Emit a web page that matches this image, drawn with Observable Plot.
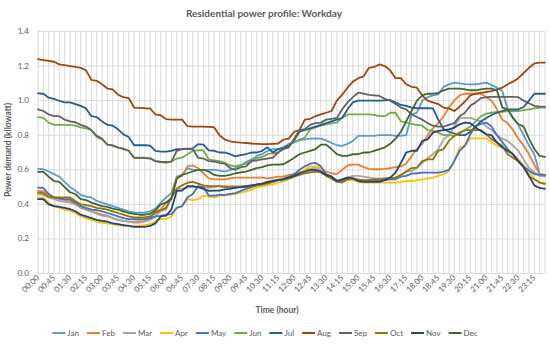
<!DOCTYPE html>
<html><head><meta charset="utf-8">
<script src="https://cdn.jsdelivr.net/npm/d3@7"></script>
<script src="https://cdn.jsdelivr.net/npm/@observablehq/plot@0.6"></script>
<style>
html,body{margin:0;padding:0;background:#fff;}
#chart{position:relative;width:550px;height:346px;}
</style></head><body><div id="chart"></div>
<script>
const title = "Residential power profile: Workday";
const yTitle = "Power demand (kilowatt)";
const xTitle = "Time (hour)";
const months = ["Jan","Feb","Mar","Apr","May","Jun","Jul","Aug","Sep","Oct","Nov","Dec"];
const colors = ["#5B9BD5","#ED7D31","#A5A5A5","#FFC000","#4472C4","#70AD47","#255E91","#9E480E","#636363","#997300","#264478","#43682B"];
const yTicks = [0,0.2,0.4,0.6,0.8,1.0,1.2,1.4];

const Jan = [0.605,0.603,0.59,0.575,0.56,0.53,0.50,0.48,0.455,0.445,0.44,0.42,0.41,0.40,0.39,0.38,0.37,0.36,0.353,0.352,0.352,0.36,0.375,0.41,0.44,0.465,
0.56,0.57,0.61,0.60,0.60,0.60,0.60,0.60,0.595,0.59,0.60,0.61,0.625,0.645,0.66,0.68,0.69,0.71,0.72,0.72,0.73,0.75,0.76,0.77,
0.776,0.78,0.782,0.78,0.77,0.755,0.742,0.738,0.75,0.767,0.796,0.796,0.796,0.796,0.80,0.80,0.80,0.796,0.796,0.80,
0.92,0.93,1.0,1.02,1.03,1.036,1.08,1.094,1.104,1.10,1.095,1.094,1.094,1.10,1.104,1.09,1.075,1.056,0.95,0.90,0.86,0.80,0.74,0.69,0.574,0.57];
const Feb = [0.478,0.475,0.46,0.44,0.43,0.425,0.42,0.40,0.38,0.37,0.36,0.35,0.34,0.335,0.32,0.31,0.305,0.30,0.30,0.303,0.305,0.32,0.36,0.37,0.41,0.44,
0.555,0.565,0.62,0.625,0.61,0.58,0.55,0.545,0.545,0.545,0.55,0.555,0.555,0.555,0.555,0.555,0.555,0.55,0.555,0.56,0.56,0.57,0.575,0.585,
0.595,0.597,0.597,0.595,0.59,0.58,0.575,0.60,0.625,0.63,0.63,0.615,0.605,0.603,0.603,0.605,0.61,0.615,0.62,0.635,
0.68,0.72,0.75,0.80,0.84,0.87,0.91,0.96,1.0,1.03,1.04,1.04,1.04,1.04,1.02,1.0,0.95,0.89,0.87,0.83,0.78,0.74,0.69,0.63,0.575,0.57];
const Mar = [0.459,0.455,0.44,0.43,0.42,0.415,0.41,0.40,0.385,0.37,0.36,0.345,0.335,0.33,0.32,0.31,0.305,0.30,0.295,0.295,0.30,0.31,0.33,0.362,0.37,0.44,
0.49,0.49,0.497,0.50,0.50,0.50,0.495,0.50,0.505,0.505,0.505,0.505,0.505,0.505,0.51,0.515,0.52,0.53,0.54,0.545,0.55,0.56,0.57,0.58,
0.595,0.605,0.613,0.60,0.575,0.56,0.54,0.545,0.555,0.565,0.565,0.56,0.555,0.55,0.55,0.55,0.55,0.555,0.57,0.59,
0.593,0.61,0.64,0.667,0.69,0.72,0.776,0.80,0.85,0.90,0.90,0.90,0.89,0.88,0.85,0.83,0.80,0.78,0.767,0.74,0.71,0.66,0.61,0.585,0.565,0.56];
const Apr = [0.44,0.438,0.41,0.39,0.38,0.37,0.362,0.35,0.33,0.32,0.31,0.30,0.295,0.29,0.285,0.28,0.275,0.275,0.275,0.275,0.28,0.285,0.30,0.314,0.315,0.33,
0.38,0.39,0.43,0.425,0.43,0.45,0.445,0.44,0.45,0.45,0.455,0.46,0.468,0.475,0.485,0.497,0.505,0.51,0.515,0.525,0.535,0.545,0.56,0.58,
0.60,0.62,0.62,0.61,0.57,0.55,0.535,0.53,0.54,0.54,0.53,0.526,0.526,0.526,0.526,0.526,0.526,0.526,0.53,0.535,
0.535,0.54,0.545,0.55,0.555,0.565,0.575,0.593,0.65,0.728,0.738,0.782,0.782,0.782,0.782,0.757,0.74,0.728,0.71,0.69,0.66,0.622,0.59,0.545,0.526,0.516];
const May = [0.497,0.495,0.46,0.44,0.435,0.43,0.43,0.41,0.39,0.38,0.37,0.366,0.36,0.35,0.34,0.33,0.32,0.315,0.314,0.314,0.315,0.32,0.33,0.333,0.34,0.343,
0.38,0.39,0.44,0.46,0.505,0.50,0.45,0.45,0.455,0.455,0.46,0.465,0.478,0.49,0.50,0.51,0.515,0.525,0.53,0.54,0.545,0.56,0.575,0.60,
0.62,0.635,0.64,0.62,0.574,0.56,0.535,0.535,0.555,0.55,0.54,0.535,0.54,0.54,0.54,0.54,0.545,0.545,0.56,0.565,
0.578,0.58,0.584,0.584,0.584,0.584,0.59,0.60,0.65,0.71,0.74,0.805,0.853,0.865,0.873,0.85,0.80,0.76,0.72,0.69,0.65,0.62,0.595,0.575,0.57,0.57];
const Jun = [0.905,0.90,0.873,0.86,0.86,0.86,0.86,0.855,0.845,0.84,0.83,0.79,0.776,0.745,0.742,0.73,0.72,0.71,0.67,0.67,0.67,0.668,0.65,0.645,0.64,0.648,
0.665,0.67,0.69,0.71,0.713,0.712,0.66,0.655,0.65,0.64,0.625,0.62,0.628,0.635,0.65,0.668,0.674,0.69,0.695,0.70,0.728,0.742,0.76,0.775,
0.786,0.834,0.845,0.855,0.863,0.868,0.873,0.90,0.92,0.92,0.92,0.92,0.92,0.918,0.91,0.91,0.93,0.93,0.88,0.875,
0.865,0.86,0.855,0.83,0.825,0.815,0.80,0.80,0.796,0.81,0.83,0.85,0.88,0.91,0.925,0.93,0.935,0.935,0.94,0.94,0.94,0.945,0.95,0.955,0.96,0.96];
const Jul = [1.042,1.04,1.017,1.01,0.998,0.99,0.99,0.98,0.97,0.955,0.91,0.905,0.88,0.86,0.855,0.834,0.805,0.79,0.742,0.742,0.742,0.74,0.71,0.705,0.705,0.71,
0.72,0.72,0.722,0.724,0.748,0.745,0.712,0.71,0.70,0.70,0.69,0.678,0.685,0.69,0.70,0.70,0.71,0.73,0.70,0.72,0.725,0.74,0.77,0.82,
0.83,0.84,0.85,0.86,0.87,0.88,0.89,0.90,0.95,0.99,1.0,1.0,1.0,1.0,1.0,1.002,1.004,0.99,0.975,0.97,
0.96,0.956,0.956,0.956,0.955,0.89,0.835,0.82,0.81,0.80,0.80,0.82,0.85,0.88,0.90,0.917,0.93,0.94,0.95,0.95,0.95,0.963,1.0,1.04,1.04,1.04];
const Aug = [1.24,1.235,1.23,1.225,1.21,1.205,1.20,1.195,1.19,1.175,1.12,1.115,1.095,1.07,1.065,1.035,1.02,1.015,0.96,0.958,0.956,0.955,0.92,0.915,0.893,0.89,
0.89,0.89,0.852,0.85,0.85,0.85,0.848,0.846,0.80,0.775,0.765,0.76,0.757,0.755,0.752,0.75,0.748,0.748,0.75,0.752,0.775,0.78,0.82,0.83,
0.89,0.895,0.91,0.92,0.93,0.94,1.0,1.035,1.075,1.11,1.13,1.14,1.19,1.195,1.21,1.20,1.175,1.13,1.13,1.095,
1.08,1.075,1.03,1.0,0.99,0.98,0.96,0.955,0.94,0.965,0.995,1.03,1.04,1.045,1.05,1.055,1.065,1.075,1.095,1.11,1.13,1.16,1.19,1.215,1.22,1.22];
const Sep = [0.95,0.94,0.92,0.91,0.91,0.89,0.88,0.875,0.86,0.85,0.83,0.796,0.78,0.745,0.74,0.728,0.722,0.71,0.67,0.668,0.667,0.665,0.65,0.645,0.645,0.647,
0.71,0.72,0.72,0.72,0.67,0.665,0.65,0.648,0.64,0.635,0.61,0.60,0.615,0.62,0.65,0.655,0.66,0.665,0.67,0.70,0.72,0.73,0.78,0.83,
0.835,0.86,0.87,0.873,0.89,0.895,0.90,0.95,0.99,1.02,1.046,1.04,1.033,1.03,1.027,1.01,1.0,0.98,0.96,0.95,
0.92,0.905,0.89,0.87,0.855,0.85,0.85,0.86,0.87,0.91,0.93,0.97,0.99,1.015,1.02,1.022,1.022,1.022,1.022,1.022,1.02,1.0,0.985,0.97,0.965,0.965];
const Oct = [0.468,0.465,0.445,0.44,0.44,0.44,0.44,0.42,0.40,0.395,0.39,0.38,0.375,0.37,0.36,0.35,0.34,0.33,0.325,0.324,0.325,0.33,0.35,0.366,0.38,0.44,
0.49,0.51,0.525,0.53,0.52,0.51,0.505,0.505,0.505,0.50,0.50,0.50,0.50,0.50,0.505,0.51,0.515,0.52,0.53,0.54,0.545,0.55,0.56,0.57,
0.58,0.585,0.59,0.585,0.565,0.55,0.53,0.526,0.545,0.55,0.545,0.54,0.54,0.545,0.545,0.55,0.55,0.555,0.57,0.59,
0.61,0.613,0.65,0.66,0.66,0.71,0.72,0.767,0.796,0.815,0.83,0.83,0.83,0.83,0.805,0.776,0.76,0.738,0.69,0.67,0.65,0.622,0.56,0.545,0.526,0.52];
const Nov = [0.43,0.43,0.40,0.39,0.385,0.38,0.372,0.36,0.34,0.33,0.32,0.31,0.304,0.30,0.29,0.285,0.28,0.275,0.27,0.27,0.27,0.275,0.29,0.33,0.335,0.37,
0.478,0.48,0.505,0.505,0.50,0.49,0.478,0.48,0.48,0.487,0.49,0.495,0.50,0.505,0.51,0.515,0.52,0.53,0.535,0.54,0.545,0.555,0.565,0.58,
0.59,0.60,0.60,0.59,0.57,0.56,0.535,0.545,0.555,0.55,0.535,0.53,0.53,0.53,0.53,0.54,0.555,0.584,0.64,0.70,
0.71,0.71,0.767,0.776,0.815,0.825,0.83,0.834,0.844,0.863,0.873,0.87,0.844,0.825,0.805,0.80,0.757,0.73,0.71,0.69,0.65,0.613,0.565,0.51,0.495,0.49];
const Dec = [0.588,0.588,0.56,0.535,0.53,0.50,0.47,0.46,0.43,0.425,0.41,0.40,0.39,0.385,0.375,0.37,0.36,0.35,0.345,0.34,0.34,0.345,0.365,0.40,0.41,0.43,
0.55,0.57,0.58,0.59,0.60,0.60,0.59,0.57,0.565,0.565,0.57,0.58,0.585,0.59,0.60,0.61,0.615,0.625,0.63,0.63,0.632,0.65,0.67,0.69,
0.70,0.71,0.72,0.745,0.745,0.72,0.69,0.68,0.68,0.69,0.69,0.70,0.70,0.71,0.72,0.73,0.75,0.78,0.82,0.88,
0.94,1.0,1.03,1.04,1.04,1.045,1.06,1.07,1.07,1.07,1.065,1.06,1.06,1.065,1.07,1.07,1.06,0.96,0.95,0.90,0.865,0.85,0.78,0.72,0.68,0.675];

const series = [Jan,Feb,Mar,Apr,May,Jun,Jul,Aug,Sep,Oct,Nov,Dec];
const times = d3.range(96).map(i => String(Math.floor(i/4)).padStart(2,"0") + ":" + String((i%4)*15).padStart(2,"0"));
const tickTimes = times.filter((d,i) => i % 3 === 0);

const data = [];
months.forEach((m, k) => series[k].forEach((v, i) => data.push({month: m, t: times[i], v})));

const FONT = "Lato, 'Open Sans', sans-serif";
const TXT = "#595959";
const GRID = "#D9D9D9";

const plot = Plot.plot({
  width: 550, height: 346,
  marginTop: 31, marginBottom: 73, marginLeft: 37.5, marginRight: 5.5,
  style: {fontFamily: FONT, fontSize: "8px", color: TXT, background: "#fff", overflow: "visible"},
  x: {type: "point", domain: times, padding: 0, label: null},
  y: {domain: [0, 1.4], label: null},
  color: {domain: months, range: colors},
  marks: [
    Plot.ruleX(times, {stroke: GRID, strokeWidth: 1}),
    Plot.gridY(yTicks, {stroke: GRID, strokeOpacity: 1, strokeWidth: 1}),
    Plot.axisY({ticks: yTicks, tickFormat: d3.format(".1f"), tickSize: 0, tickPadding: 9, fill: TXT, label: null}),
    Plot.axisX({ticks: tickTimes, tickRotate: -45, tickSize: 0, tickPadding: 3, fill: TXT, label: null}),
    Plot.line(data, {x: "t", y: "v", z: "month", stroke: "month", strokeWidth: 1.8, strokeLinejoin: "round"})
  ]
});
document.getElementById("chart").appendChild(plot);

const svg = d3.select(plot);
svg.append("text").attr("x", 264).attr("y", 17).attr("text-anchor", "middle")
  .attr("font-family", FONT).attr("font-size", 10).attr("font-weight", "bold").attr("fill", TXT).text(title);
svg.append("text").attr("x", 277).attr("y", 313).attr("text-anchor", "middle")
  .attr("font-family", FONT).attr("font-size", 8.5).attr("font-weight", "bold").attr("fill", TXT).text(xTitle);
svg.append("text").attr("transform", "translate(11,150) rotate(-90)").attr("text-anchor", "middle")
  .attr("font-family", FONT).attr("font-size", 8.5).attr("font-weight", "bold").attr("fill", TXT).text(yTitle);

const leg = svg.append("g");
let xpos = 0;
months.forEach((m, k) => {
  const g = leg.append("g").attr("transform", `translate(${xpos},0)`);
  g.append("line").attr("x1", 0).attr("x2", 13).attr("y1", 0).attr("y2", 0).attr("stroke", colors[k]).attr("stroke-width", 2);
  const t = g.append("text").attr("x", 15).attr("y", 3).attr("text-anchor", "start")
    .attr("font-family", FONT).attr("font-size", 8).attr("fill", TXT).text(m);
  xpos += 15 + t.node().getComputedTextLength() + 8;
});
const legW = xpos - 8;
leg.attr("transform", `translate(${265 - legW/2},333)`);
</script></body></html>
